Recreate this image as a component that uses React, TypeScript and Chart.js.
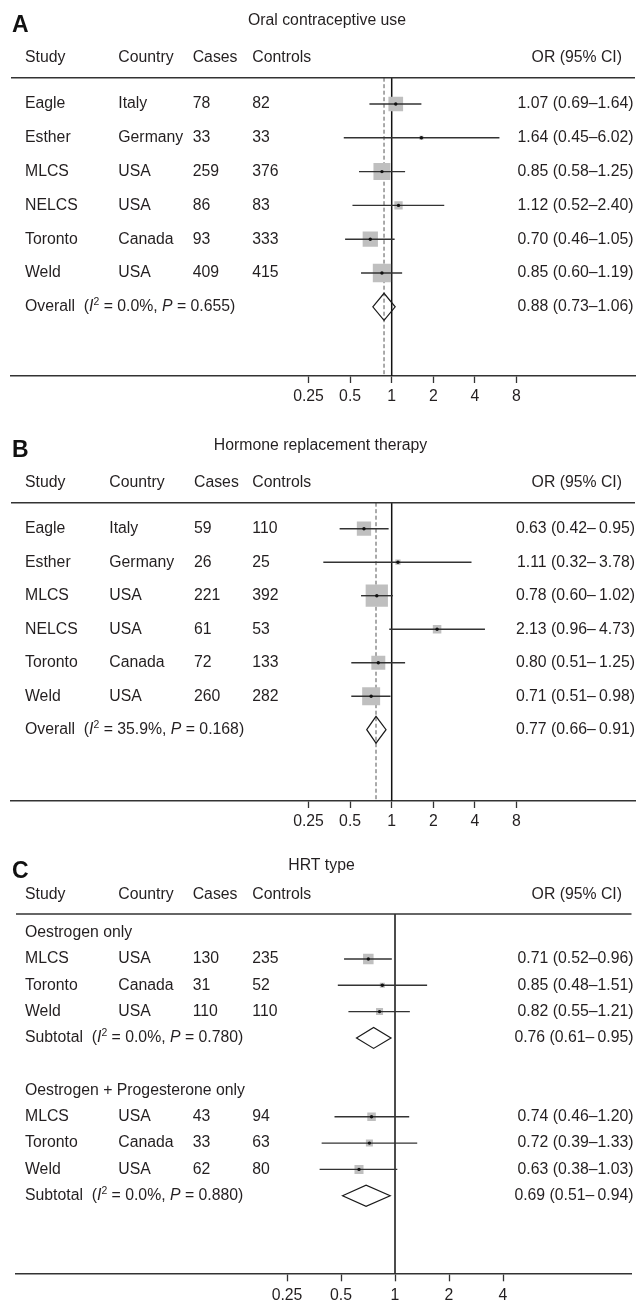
import React, { useEffect, useRef } from 'react';
import { Chart, registerables } from 'chart.js';

Chart.register(...registerables);

const FONT = '"Liberation Sans", Arial, Helvetica, sans-serif';
const TEXT = '#231f20';
const FS = 15.8;

// ---------- Panel A: Oral contraceptive use ----------
const studiesA = ['Eagle', 'Esther', 'MLCS', 'NELCS', 'Toronto', 'Weld'];
const countriesA = ['Italy', 'Germany', 'USA', 'USA', 'Canada', 'USA'];
const casesA = [78, 33, 259, 86, 93, 409];
const controlsA = [82, 33, 376, 83, 333, 415];
const orA = [1.07, 1.64, 0.85, 1.12, 0.7, 0.85];
const loA = [0.69, 0.45, 0.58, 0.52, 0.46, 0.6];
const hiA = [1.64, 6.02, 1.25, 2.4, 1.05, 1.19];
const weightA = [18.6, 1.4, 24.9, 6.0, 20.2, 28.9];
const overallA = [0.88, 0.73, 1.06];
const hetA = ['0.0%', '0.655'];

// ---------- Panel B: Hormone replacement therapy ----------
const studiesB = ['Eagle', 'Esther', 'MLCS', 'NELCS', 'Toronto', 'Weld'];
const countriesB = ['Italy', 'Germany', 'USA', 'USA', 'Canada', 'USA'];
const casesB = [59, 26, 221, 61, 72, 260];
const controlsB = [110, 25, 392, 53, 133, 282];
const orB = [0.63, 1.11, 0.78, 2.13, 0.8, 0.71];
const loB = [0.42, 0.32, 0.6, 0.96, 0.51, 0.51];
const hiB = [0.95, 3.78, 1.02, 4.73, 1.25, 0.98];
const weightB = [15.5, 2.1, 37.6, 5.5, 14.8, 24.5];
const overallB = [0.77, 0.66, 0.91];
const hetB = ['35.9%', '0.168'];

// ---------- Panel C: HRT type ----------
const groupsC = ['Oestrogen only', 'Oestrogen + Progesterone only'];
const studiesC1 = ['MLCS', 'Toronto', 'Weld'];
const countriesC1 = ['USA', 'Canada', 'USA'];
const casesC1 = [130, 31, 110];
const controlsC1 = [235, 52, 110];
const orC1 = [0.71, 0.85, 0.82];
const loC1 = [0.52, 0.48, 0.55];
const hiC1 = [0.96, 1.51, 1.21];
const weightC1 = [28.5, 6.5, 12.7];
const subtotalC1 = [0.76, 0.61, 0.95];
const hetC1 = ['0.0%', '0.780'];

const studiesC2 = ['MLCS', 'Toronto', 'Weld'];
const countriesC2 = ['USA', 'Canada', 'USA'];
const casesC2 = [43, 33, 62];
const controlsC2 = [94, 63, 80];
const orC2 = [0.74, 0.72, 0.63];
const loC2 = [0.46, 0.39, 0.38];
const hiC2 = [1.2, 1.33, 1.03];
const weightC2 = [18.7, 12.7, 21.0];
const subtotalC2 = [0.69, 0.51, 0.94];
const hetC2 = ['0.0%', '0.880'];

const ticksAB = [0.25, 0.5, 1, 2, 4, 8];
const ticksC = [0.25, 0.5, 1, 2, 4];

type Row = {
  y: number;
  kind: 'group' | 'study' | 'summary';
  label: string;
  country?: string;
  cases?: number;
  controls?: number;
  or?: number;
  lo?: number;
  hi?: number;
  w?: number;
  i2?: string;
  p?: string;
};

function studyRows(
  start: number, s: string[], c: string[], ca: number[], co: number[],
  o: number[], l: number[], h: number[], w: number[]
): Row[] {
  return s.map((name, i) => ({
    y: start + i, kind: 'study', label: name, country: c[i], cases: ca[i], controls: co[i],
    or: o[i], lo: l[i], hi: h[i], w: w[i],
  }));
}

function summaryRow(y: number, label: string, v: number[], het: string[]): Row {
  return { y, kind: 'summary', label, or: v[0], lo: v[1], hi: v[2], i2: het[0], p: het[1] };
}

const rowsA: Row[] = [
  ...studyRows(0, studiesA, countriesA, casesA, controlsA, orA, loA, hiA, weightA),
  summaryRow(6, 'Overall', overallA, hetA),
];
const rowsB: Row[] = [
  ...studyRows(0, studiesB, countriesB, casesB, controlsB, orB, loB, hiB, weightB),
  summaryRow(6, 'Overall', overallB, hetB),
];
const rowsC: Row[] = [
  { y: 0, kind: 'group', label: groupsC[0] },
  ...studyRows(1, studiesC1, countriesC1, casesC1, controlsC1, orC1, loC1, hiC1, weightC1),
  summaryRow(4, 'Subtotal', subtotalC1, hetC1),
  { y: 6, kind: 'group', label: groupsC[1] },
  ...studyRows(7, studiesC2, countriesC2, casesC2, controlsC2, orC2, loC2, hiC2, weightC2),
  summaryRow(10, 'Subtotal', subtotalC2, hetC2),
];

type Spec = {
  height: number;
  letter: string;
  letterBase: number;
  title: string;
  titleX: number;
  titleY: number;
  headerY: number;
  cols: number[];
  orHeaderRight: number;
  orRight: number;
  left: number;
  right: number;
  top: number;
  bottom: number;
  one: number;
  perDoubling: number;
  rowY0: number;
  rowStep: number;
  ticks: number[];
  tickLength: number;
  tickPad: number;
  sizeK: number;
  dashedAt: number | null;
  sepStudy: string;
  sepSummary: string;
  rows: Row[];
};

const specA: Spec = {
  height: 425, letter: 'A', letterBase: 31.8, title: 'Oral contraceptive use', titleX: 327, titleY: 20.7,
  headerY: 58, cols: [25, 118.3, 192.7, 252.3], orHeaderRight: 622, orRight: 633.5,
  left: 11, right: 635, top: 77.7, bottom: 376, one: 391.7, perDoubling: 41.6,
  rowY0: 104, rowStep: 33.8, ticks: ticksAB, tickLength: 7, tickPad: 4, sizeK: 3.4,
  dashedAt: overallA[0], sepStudy: '–', sepSummary: '–', rows: rowsA,
};
const specB: Spec = {
  height: 425, letter: 'B', letterBase: 32.3, title: 'Hormone replacement therapy', titleX: 320.5, titleY: 21,
  headerY: 57.7, cols: [25, 109.3, 194, 252.3], orHeaderRight: 622, orRight: 635,
  left: 11, right: 635, top: 77.7, bottom: 376, one: 391.7, perDoubling: 41.6,
  rowY0: 103.7, rowStep: 33.5, ticks: ticksAB, tickLength: 7, tickPad: 4, sizeK: 3.63,
  dashedAt: overallB[0], sepStudy: '–\u2009', sepSummary: '–\u2009', rows: rowsB,
};
const specC: Spec = {
  height: 453, letter: 'C', letterBase: 28.3, title: 'HRT type', titleX: 321.5, titleY: 16,
  headerY: 45, cols: [25, 118.3, 192.7, 252.3], orHeaderRight: 622, orRight: 633.5,
  left: 16, right: 631.5, top: 64, bottom: 423.3, one: 395, perDoubling: 54,
  rowY0: 82.7, rowStep: 26.3, ticks: ticksC, tickLength: 8, tickPad: 5, sizeK: 1.97,
  dashedAt: null, sepStudy: '–', sepSummary: '–\u2009', rows: rowsC,
};

function fmtCI(r: Row, sep: string) {
  return `${r.or!.toFixed(2)} (${r.lo!.toFixed(2)}${sep}${r.hi!.toFixed(2)})`;
}

function drawRich(ctx: CanvasRenderingContext2D, x: number, y: number,
  segs: { t: string; it?: boolean; sup?: boolean }[]) {
  let cx = x;
  for (const s of segs) {
    const fs = s.sup ? FS * 0.66 : FS;
    ctx.font = `${s.it ? 'italic ' : ''}${fs}px ${FONT}`;
    const dy = s.sup ? -FS * 0.3 : 0;
    ctx.fillText(s.t, cx, y + dy);
    cx += ctx.measureText(s.t).width;
  }
}

// dataset 0 = centre dots (drawn last, on top); dataset 1 = weight squares
function makePlugin(spec: Spec) {
  const studies = spec.rows.filter((r) => r.kind === 'study');
  const summaries = spec.rows.filter((r) => r.kind === 'summary');
  return {
    id: 'forest' + spec.letter,
    beforeDatasetsDraw(chart: any) {
      const { ctx, chartArea, scales } = chart;
      const xs = scales.x;
      ctx.save();
      const x1 = xs.getPixelForValue(1);
      ctx.strokeStyle = '#111';
      ctx.lineWidth = 1.5;
      ctx.beginPath();
      ctx.moveTo(x1, chartArea.top);
      ctx.lineTo(x1, chartArea.bottom);
      ctx.stroke();
      if (spec.dashedAt != null) {
        const xd = xs.getPixelForValue(spec.dashedAt);
        ctx.setLineDash([4, 2.5]);
        ctx.strokeStyle = '#555';
        ctx.lineWidth = 1;
        ctx.beginPath();
        ctx.moveTo(xd, chartArea.top);
        ctx.lineTo(xd, chartArea.bottom);
        ctx.stroke();
        ctx.setLineDash([]);
      }
      ctx.restore();
    },
    afterDatasetDraw(chart: any, args: any) {
      if (args.index !== 1) return;
      const { ctx, scales } = chart;
      ctx.save();
      ctx.strokeStyle = '#333';
      ctx.lineWidth = 1.4;
      for (const r of studies) {
        const y = scales.y.getPixelForValue(r.y);
        ctx.beginPath();
        ctx.moveTo(scales.x.getPixelForValue(r.lo), y);
        ctx.lineTo(scales.x.getPixelForValue(r.hi), y);
        ctx.stroke();
      }
      ctx.restore();
    },
    afterDatasetsDraw(chart: any) {
      const { ctx, scales } = chart;
      ctx.save();
      ctx.strokeStyle = '#1a1a1a';
      ctx.lineWidth = 1.2;
      for (const r of summaries) {
        const y = scales.y.getPixelForValue(r.y);
        const h = Math.abs(scales.y.getPixelForValue(r.y + 0.4) - y);
        const xl = scales.x.getPixelForValue(r.lo);
        const xm = scales.x.getPixelForValue(r.or);
        const xh = scales.x.getPixelForValue(r.hi);
        ctx.beginPath();
        ctx.moveTo(xl, y);
        ctx.lineTo(xm, y - h);
        ctx.lineTo(xh, y);
        ctx.lineTo(xm, y + h);
        ctx.closePath();
        ctx.stroke();
      }
      ctx.restore();
    },
    afterDraw(chart: any) {
      const { ctx, chartArea, scales } = chart;
      ctx.save();
      ctx.strokeStyle = '#333';
      ctx.lineWidth = 1.5;
      ctx.beginPath();
      ctx.moveTo(chartArea.left, chartArea.top);
      ctx.lineTo(chartArea.right, chartArea.top);
      ctx.stroke();

      ctx.fillStyle = '#111';
      ctx.textBaseline = 'alphabetic';
      ctx.textAlign = 'left';
      ctx.font = `bold 23px ${FONT}`;
      ctx.fillText(spec.letter, 12, spec.letterBase);

      ctx.fillStyle = TEXT;
      ctx.textBaseline = 'middle';
      ctx.font = `${FS}px ${FONT}`;
      ctx.textAlign = 'center';
      ctx.fillText(spec.title, spec.titleX, spec.titleY);

      ctx.textAlign = 'left';
      const heads = ['Study', 'Country', 'Cases', 'Controls'];
      heads.forEach((h, i) => ctx.fillText(h, spec.cols[i], spec.headerY));
      ctx.textAlign = 'right';
      ctx.fillText('OR (95% CI)', spec.orHeaderRight, spec.headerY);

      for (const r of spec.rows) {
        const y = scales.y.getPixelForValue(r.y);
        ctx.font = `${FS}px ${FONT}`;
        ctx.textAlign = 'left';
        if (r.kind === 'group') {
          ctx.fillText(r.label, spec.cols[0], y);
        } else if (r.kind === 'study') {
          ctx.fillText(r.label, spec.cols[0], y);
          ctx.fillText(r.country!, spec.cols[1], y);
          ctx.fillText(String(r.cases), spec.cols[2], y);
          ctx.fillText(String(r.controls), spec.cols[3], y);
          ctx.textAlign = 'right';
          ctx.fillText(fmtCI(r, spec.sepStudy), spec.orRight, y);
        } else {
          drawRich(ctx, spec.cols[0], y, [
            { t: r.label + '  (' },
            { t: 'I', it: true },
            { t: '2', sup: true },
            { t: ' = ' + r.i2 + ', ' },
            { t: 'P', it: true },
            { t: ' = ' + r.p + ')' },
          ]);
          ctx.font = `${FS}px ${FONT}`;
          ctx.textAlign = 'right';
          ctx.fillText(fmtCI(r, spec.sepSummary), spec.orRight, y);
        }
      }
      ctx.restore();
    },
  };
}

function buildConfig(spec: Spec): any {
  const studies = spec.rows.filter((r) => r.kind === 'study');
  const pts = studies.map((r) => ({ x: r.or!, y: r.y }));
  const radii = studies.map((r) => (spec.sizeK * Math.sqrt(r.w!)) / Math.SQRT2);
  const xMin = Math.pow(2, -(spec.one - spec.left) / spec.perDoubling);
  const xMax = Math.pow(2, (spec.right - spec.one) / spec.perDoubling);
  const yMin = (spec.top - spec.rowY0) / spec.rowStep;
  const yMax = (spec.bottom - spec.rowY0) / spec.rowStep;
  const axisH = spec.height - spec.bottom;
  return {
    type: 'scatter',
    data: {
      datasets: [
        {
          label: 'OR',
          data: pts,
          pointStyle: 'circle',
          pointRadius: 1.7,
          pointHoverRadius: 1.7,
          backgroundColor: '#111',
          borderColor: '#111',
          borderWidth: 0,
        },
        {
          label: 'weight',
          data: pts,
          pointStyle: 'rect',
          pointRadius: radii,
          pointHoverRadius: radii,
          backgroundColor: '#bfbfbf',
          borderColor: '#bfbfbf',
          borderWidth: 0,
        },
      ],
    },
    options: {
      animation: false,
      responsive: false,
      devicePixelRatio: 1,
      events: [],
      layout: {
        autoPadding: false,
        padding: { left: spec.left, right: 638 - spec.right, top: spec.top, bottom: 0 },
      },
      plugins: { legend: { display: false }, tooltip: { enabled: false } },
      scales: {
        x: {
          type: 'logarithmic',
          position: 'bottom',
          min: xMin,
          max: xMax,
          bounds: 'data',
          afterBuildTicks: (s: any) => {
            s.ticks = spec.ticks.map((v) => ({ value: v }));
          },
          afterFit: (s: any) => {
            s.height = axisH;
          },
          ticks: {
            autoSkip: false,
            maxRotation: 0,
            minRotation: 0,
            padding: spec.tickPad,
            color: TEXT,
            font: { family: FONT, size: FS },
            callback: (v: any) => String(v),
          },
          grid: {
            display: true,
            drawOnChartArea: false,
            drawTicks: true,
            tickLength: spec.tickLength,
            tickColor: '#333',
            tickWidth: 1.3,
          },
          border: { display: true, color: '#333', width: 1.5 },
        },
        y: {
          type: 'linear',
          display: false,
          reverse: true,
          min: yMin,
          max: yMax,
          bounds: 'data',
        },
      },
    },
    plugins: [makePlugin(spec)],
  };
}

function ForestPanel({ spec }: { spec: Spec }) {
  const ref = useRef<HTMLCanvasElement>(null);
  useEffect(() => {
    const chart = new Chart(ref.current as HTMLCanvasElement, buildConfig(spec));
    return () => chart.destroy();
  }, [spec]);
  return (
    <canvas
      ref={ref}
      width={638}
      height={spec.height}
      style={{ display: 'block', width: 638, height: spec.height }}
    />
  );
}

export default function App() {
  return (
    <div style={{ position: 'absolute', left: 0, top: 0, width: 638, background: '#fff' }}>
      <ForestPanel spec={specA} />
      <ForestPanel spec={specB} />
      <ForestPanel spec={specC} />
    </div>
  );
}
